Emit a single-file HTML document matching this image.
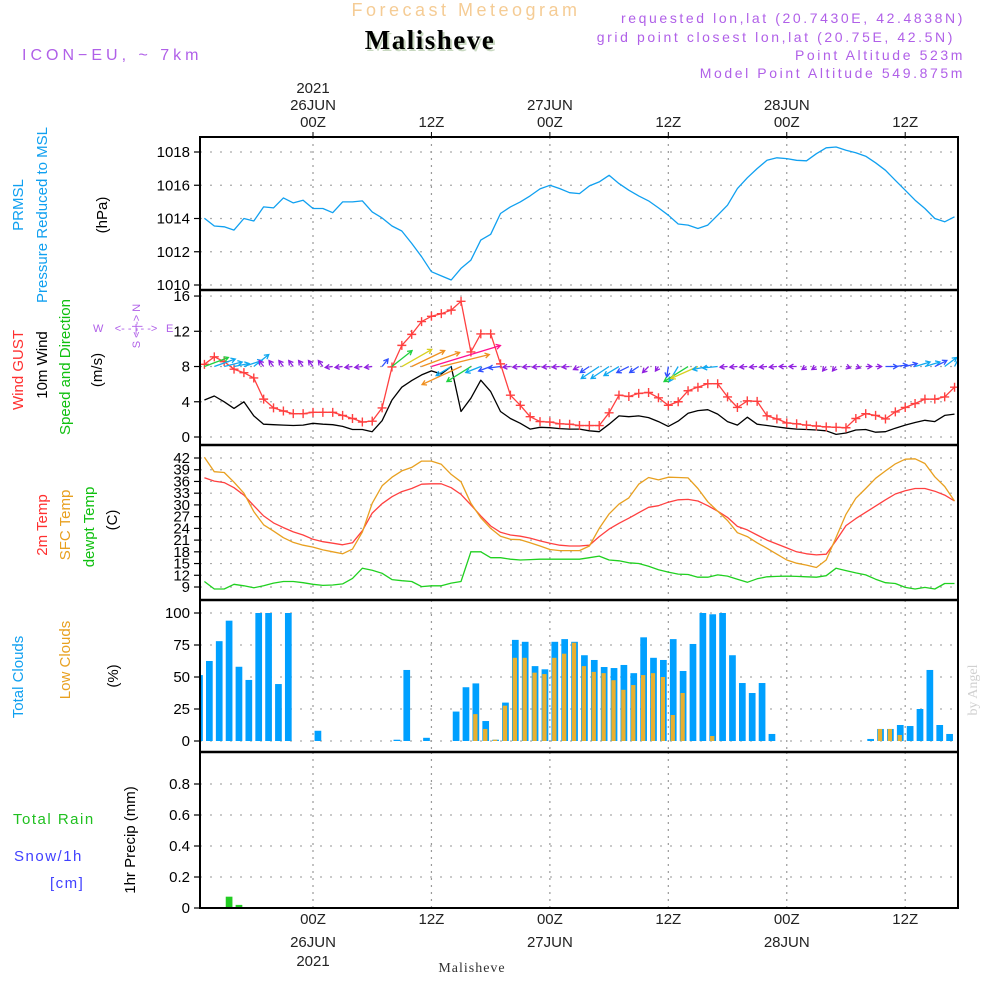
<!DOCTYPE html>
<html><head><meta charset="utf-8"><title>Forecast Meteogram Malisheve</title>
<style>
html,body{margin:0;padding:0;background:#fff;}
svg{display:block;font-family:"Liberation Sans",sans-serif;}
</style></head>
<body>
<svg id="chart" width="1000" height="1000" viewBox="0 0 1000 1000" xmlns="http://www.w3.org/2000/svg">
<defs><clipPath id="plotclip"><rect x="200" y="137" width="758" height="771"/></clipPath></defs>
<g>
<text x="466" y="16" text-anchor="middle" font-size="18" fill="#f5cc95" letter-spacing="3.5">Forecast Meteogram</text>
<text x="432" y="51" text-anchor="middle" font-size="27" font-weight="bold" font-family="Liberation Serif, serif" fill="#c8d8c0" letter-spacing="1.5">Malisheve</text>
<text x="430" y="49" text-anchor="middle" font-size="27" font-weight="bold" font-family="Liberation Serif, serif" fill="#000" letter-spacing="1.5">Malisheve</text>
<text x="22" y="60" font-size="16" fill="#b060e8" letter-spacing="4">ICON−EU, ~ 7km</text>
<text x="965" y="23" text-anchor="end" font-size="14" fill="#b060e8" letter-spacing="2.6">requested lon,lat (20.7430E, 42.4838N)</text>
<text x="955" y="42" text-anchor="end" font-size="14" fill="#b060e8" letter-spacing="2.6">grid point closest lon,lat (20.75E, 42.5N)</text>
<text x="965" y="60" text-anchor="end" font-size="14" fill="#b060e8" letter-spacing="2.6">Point Altitude 523m</text>
<text x="965" y="78" text-anchor="end" font-size="14" fill="#b060e8" letter-spacing="2.6">Model Point Altitude 549.875m</text>
<text x="977" y="690" font-size="14" fill="#d0d0d0" font-family="Liberation Serif, serif" transform="rotate(-90 977 690)" text-anchor="middle">by Angel</text>
<text x="472" y="972" text-anchor="middle" font-size="14" font-family="Liberation Serif, serif" fill="#333" letter-spacing="1">Malisheve</text>
</g>
<g font-size="15">
<text transform="translate(23,205) rotate(-90)" text-anchor="middle" fill="#10a0f0">PRMSL</text>
<text transform="translate(47,215) rotate(-90)" text-anchor="middle" fill="#10a0f0">Pressure Reduced to MSL</text>
<text transform="translate(107,215) rotate(-90)" text-anchor="middle" fill="#000">(hPa)</text>
<text transform="translate(23,370) rotate(-90)" text-anchor="middle" fill="#ff3030">Wind GUST</text>
<text transform="translate(47,365) rotate(-90)" text-anchor="middle" fill="#000">10m Wind</text>
<text transform="translate(70,367) rotate(-90)" text-anchor="middle" fill="#10c010">Speed and Direction</text>
<text transform="translate(102,370) rotate(-90)" text-anchor="middle" fill="#000">(m/s)</text>
<g fill="#b060e8" font-size="11">
<text x="93" y="332">W</text><text x="136" y="332" text-anchor="middle">&lt;- - | - -&gt;</text><text x="166" y="332">E</text>
<text transform="translate(140,326) rotate(-90)" text-anchor="middle">S &lt;-|-&gt; N</text>
</g>
<text transform="translate(47,525) rotate(-90)" text-anchor="middle" fill="#ff3030">2m Temp</text>
<text transform="translate(70,525) rotate(-90)" text-anchor="middle" fill="#e8a020">SFC Temp</text>
<text transform="translate(94,527) rotate(-90)" text-anchor="middle" fill="#10c010">dewpt Temp</text>
<text transform="translate(117,520) rotate(-90)" text-anchor="middle" fill="#000">(C)</text>
<text transform="translate(23,677) rotate(-90)" text-anchor="middle" fill="#10a0f0">Total Clouds</text>
<text transform="translate(70,660) rotate(-90)" text-anchor="middle" fill="#e8a020">Low Clouds</text>
<text transform="translate(118,676) rotate(-90)" text-anchor="middle" fill="#000">(%)</text>
<text x="13" y="824" fill="#20c020" letter-spacing="1.5">Total  Rain</text>
<text x="14" y="861" fill="#4040ff" letter-spacing="1.5">Snow/1h</text>
<text x="50" y="888" fill="#4040ff" letter-spacing="1.5">[cm]</text>
<text transform="translate(135,840) rotate(-90)" text-anchor="middle" fill="#000">1hr Precip (mm)</text>
</g>
<g id="grid"></g>
<g id="marks" clip-path="url(#plotclip)"></g>
<g id="axes"></g>
</svg>
<script>
// ---- data (hourly, h = -11 .. 65 hours from 26JUN 00Z) ----
const startHour = -11;
const pressure = [1014.02,1013.55,1013.5,1013.3,1014.0,1013.85,1014.7,1014.64,1015.24,1014.94,1015.1,1014.6,1014.6,1014.35,1015.0,1015.0,1015.06,1014.4,1014.03,1013.55,1013.25,1012.5,1011.7,1010.8,1010.55,1010.3,1011.0,1011.5,1012.7,1013.05,1014.3,1014.7,1015.0,1015.36,1015.78,1016.0,1015.8,1015.55,1015.5,1015.96,
1016.2,1016.6,1016.1,1015.7,1015.36,1015.06,1014.64,1014.2,1013.67,1013.6,1013.4,1013.6,1014.2,1014.8,1015.8,1016.45,1017.0,1017.5,1017.65,1017.6,1017.5,1017.47,1017.9,1018.25,1018.3,1018.1,1017.95,1017.75,1017.35,1016.9,1016.3,1015.7,1015.1,1014.6,1014.0,1013.8,1014.1];
const gust = [8.25,9.1,8.55,7.7,7.3,6.7,4.3,3.3,2.95,2.65,2.65,2.8,2.8,2.8,2.45,2.1,1.7,1.8,3.3,7.95,10.4,11.65,13.1,13.7,14.0,14.4,15.4,9.65,11.7,11.7,8.3,4.75,3.6,2.3,1.75,1.7,1.5,1.45,1.3,1.3,
1.3,2.75,4.75,4.6,4.95,5.05,4.45,3.6,4.0,5.25,5.65,6.05,6.05,4.55,3.35,4.1,4.05,2.4,2.05,1.6,1.5,1.35,1.25,1.15,1.1,1.05,2.1,2.65,2.45,2.05,2.85,3.35,3.8,4.3,4.3,4.55,5.65];
const wind10m = [4.2,4.65,4.0,3.25,4.0,2.4,1.45,1.4,1.35,1.3,1.35,1.55,1.45,1.4,1.2,0.85,0.85,0.6,1.85,4.2,5.65,6.4,7.05,7.5,7.15,8.0,2.9,4.4,6.45,5.15,2.9,2.1,1.55,0.9,1.1,1.05,0.95,0.9,0.9,0.7,
0.6,1.45,2.4,2.3,2.4,2.2,1.75,1.2,1.8,2.7,3.0,3.1,2.6,1.75,1.35,2.25,1.45,1.3,1.15,1.0,0.9,0.85,0.8,0.7,0.3,0.45,0.8,0.85,0.55,0.6,1.0,1.35,1.65,1.9,1.75,2.45,2.6];
const windU = [8,7,6,5,6,5,-1.5,-1.5,-1.5,-1.5,-1.5,-1.5,-1.5,-2.5,-2.5,-2.5,-2.5,-2.5,2,6.7,10,11,12.7,23,16,-5,-13,-8,-5,-4,-4,-2.5,-2.5,-2.5,-2.5,-2.5,-2.5,-2.5,
-2,-3,-6,-6,-5,-4,-3,-2,-1,-0.5,-3,-8,-9,-5,-5,-2.5,-2.5,-2.5,-2.5,-2.5,-2.5,-2.5,-2.5,-1.5,-1.5,-1.2,-1.2,1.5,1.5,2,2,4,4,4,5,5,4,4,3];
const windV = [3,2.5,1.5,1,2,4,2,2,2,2,2,2,2,-0.3,-0.3,-0.3,-0.3,-0.3,2.5,5.3,5.7,5.3,4.7,7,4,-3,-6,-5,-2,-1.5,-0.5,-0.2,-0.2,-0.2,-0.2,-0.2,-0.2,-0.2,
-1,-2,-4,-4,-3,-2,-2,-2,-1.5,-3.5,-5,-5,-4,-1,-0.5,-0.2,-0.2,-0.2,-0.2,-0.2,-0.2,0,0,-1,-1,-1.5,-1.5,-0.5,-0.5,0,0,0,0.5,1,1.5,1.5,2,3,6];
const temp2m = [36.96,36.1,35.7,34.4,32.5,29.8,27.2,25.4,24.2,23.1,22.3,21.2,20.6,20.2,19.8,20.3,23.4,27.9,30.3,32.1,33.4,34.2,35.3,35.4,35.4,34.4,32.7,30.0,27.2,24.6,23.0,22.3,22.0,21.5,20.8,20.2,19.7,19.5,19.5,19.7,
21.9,23.8,25.3,26.6,28.0,29.4,29.8,30.7,31.3,31.4,31.0,29.8,28.4,26.8,24.5,23.6,22.3,21.0,20.0,19.0,18.0,17.5,17.2,17.4,20.9,24.7,26.5,28.1,29.7,31.3,32.8,33.6,34.2,34.2,33.5,32.5,31.0];
const tempSfc = [42.2,38.5,38.3,35.8,33.0,28.3,24.9,23.3,21.6,20.4,19.7,19.2,18.5,18.0,17.5,18.7,23.1,30.4,34.9,37.1,38.7,39.6,41.2,41.2,40.4,37.8,35.9,30.4,26.7,24.0,22.0,21.2,21.1,20.3,19.5,18.6,18.3,18.3,18.3,19.5,
24.0,27.7,30.2,31.8,35.3,37.0,36.4,37.1,37.0,36.9,34.2,30.8,28.4,26.0,22.9,21.9,20.3,18.9,17.4,15.9,15.1,14.6,14.0,15.9,21.7,27.6,31.7,34.2,36.8,38.7,40.5,41.7,41.8,40.6,37.2,34.7,31.0];
const dewpoint = [10.4,8.5,8.5,9.7,9.3,8.8,9.3,10.0,10.4,10.4,10.1,9.7,9.4,9.5,9.8,11.2,13.8,13.3,12.5,10.9,10.6,10.4,9.1,9.3,9.3,10.0,10.4,18.0,18.0,16.5,16.5,16.1,15.9,16.0,16.1,16.1,16.1,16.1,16.1,16.5,
16.9,15.9,15.7,15.2,15.0,14.3,13.4,12.8,12.3,12.2,11.5,11.5,12.1,11.8,11.0,10.2,11.1,11.6,11.7,11.8,11.7,11.6,11.5,11.9,13.8,13.2,12.6,12.1,11.0,10.1,9.9,8.9,8.5,8.9,8.5,9.9,9.9];
const totalClouds = [51.5,62.5,78,94,58,47.7,100,100,44.5,100,0,0,8,0,0,0,0,0,0,0,1,55.5,0,2.5,0,0,23,42,45,15.6,1,30,79,77.5,58.5,56,77.5,79.6,77.5,67,
63.3,57.8,57,59.4,53,81,65,63.3,79.6,54.7,75.8,100,99,100,67,45.3,37.5,45.3,5.5,0,0,0,0,0,0,0,0,0,1.6,9.4,9.4,12.5,11.7,25,55.5,12.5,5.5];
const lowClouds = [0,0,0,0,0,0,0,0,0,0,0,0,0,0,0,0,0,0,0,0,0,0,0,0,0,0,0,0,21,9.4,1,27.6,65,65,53.4,52.3,65,68.2,76.8,58.5,
54,53,47.5,40,43.7,51.5,53,50,20.3,37.5,0,0,3.9,0,0,0,0,0,0,0,0,0,0,0,0,0,0,0,0,9.4,9.4,4.7,0,0,0,0,0];
const precip = [0,0.005,0.003,0.073,0.02,0,0,0,0,0,0,0,0,0,0,0,0,0,0,0,0,0,0,0,0,0,0,0,0,0,0,0,0,0,0,0,0,0,0,0,
0,0,0,0,0,0,0,0,0,0,0,0,0,0,0,0,0,0,0,0,0,0,0,0,0,0,0,0,0,0,0,0,0,0,0,0,0];
const pressureTicks = [1010,1012,1014,1016,1018];
const windTicks = [0,4,8,12,16];
const tempTicks = [9,12,15,18,21,24,27,30,33,36,39,42];
const cloudTicks = [0,25,50,75,100];
const precipTicks = [0,0.2,0.4,0.6,0.8];
const precipTickLabels = ["0","0.2","0.4","0.6","0.8"];
const timeTicks = [0,12,24,36,48,60];
const timeLabels = ["00Z","12Z","00Z","12Z","00Z","12Z"];
const dayLabels = ["26JUN","","27JUN","","28JUN",""];

// ---- axis functions ----
const X0 = 200, X1 = 958;
const xH = h => 313 + 9.87 * h;
const xi = i => xH(startHour + i);
const yP = v => 285 - (v - 1010) * 16.625;
const yW = v => 437 - v * 8.81;
const yT = v => 587 - (v - 9) * 3.909;
const yC = v => 741 - v * 1.28;
const yR = v => 908 - v * 155;
const panels = [[137,290],[290,445],[445,600],[600,752],[752,908]];

const NS = "http://www.w3.org/2000/svg";
const grid = document.getElementById('grid');
const marks = document.getElementById('marks');
const axes = document.getElementById('axes');
function mk(tag, attrs, parent){
  const e = document.createElementNS(NS, tag);
  for (const k in attrs) e.setAttribute(k, attrs[k]);
  parent.appendChild(e);
  return e;
}

timeTicks.forEach((h, k) => {
  const x = xH(h);
  panels.forEach(p => {
    const g = mk('line', {x1:x, x2:x, y1:p[0], y2:p[1], stroke:'#999', 'stroke-width':1.2, 'stroke-dasharray':'2,5'}, grid);
    
    
  });
  const tt = mk('line', {x1:x, x2:x, y1:132, y2:137, stroke:'#000'}, axes);
  
  
  const t1 = mk('text', {x:x, y:127, 'text-anchor':'middle', 'font-size':15, fill:'#222'}, axes);
  t1.textContent = timeLabels[k];
  
  
  const t2 = mk('text', {x:x, y:924, 'text-anchor':'middle', 'font-size':15, fill:'#222'}, axes);
  t2.textContent = timeLabels[k];
  
  
  if (dayLabels[k]) {
    const d1 = mk('text', {x:x, y:110, 'text-anchor':'middle', 'font-size':15, fill:'#222'}, axes);
    d1.textContent = dayLabels[k];
    
    
    const d2 = mk('text', {x:x, y:947, 'text-anchor':'middle', 'font-size':15, fill:'#222'}, axes);
    d2.textContent = dayLabels[k];
    
    
  }
});
const y1 = mk('text', {x:xH(0), y:93, 'text-anchor':'middle', 'font-size':15, fill:'#222'}, axes);
y1.textContent = '2021';


const y2 = mk('text', {x:xH(0), y:966, 'text-anchor':'middle', 'font-size':15, fill:'#222'}, axes);
y2.textContent = '2021';



function yAxis(ticks, labels, fy, name){
  ticks.forEach((v, k) => {
    const y = fy(v);
    const g = mk('line', {x1:X0, x2:X1, y1:y, y2:y, stroke:'#aaa', 'stroke-width':1.2, 'stroke-dasharray':'2,8'}, grid);
    
    
    const t = mk('line', {x1:X0-6, x2:X0, y1:y, y2:y, stroke:'#000', 'stroke-width':1.2}, axes);
    
    
    const l = mk('text', {x:X0-10, y:y+5, 'text-anchor':'end', 'font-size':15, fill:'#000'}, axes);
    l.textContent = labels ? labels[k] : String(v);
    
    
  });
}
yAxis(pressureTicks, null, yP, 'pressure');
yAxis(windTicks, null, yW, 'wind');
yAxis(tempTicks, null, yT, 'temp');
yAxis(cloudTicks, null, yC, 'clouds');
yAxis(precipTicks, precipTickLabels, yR, 'precip');

const fr = mk('rect', {x:X0, y:137, width:X1-X0, height:771, fill:'none', stroke:'#000', 'stroke-width':2}, axes);


[290,445,600,752].forEach(y => {
  const s = mk('line', {x1:X0, x2:X1, y1:y, y2:y, stroke:'#000', 'stroke-width':2.5}, axes);
  
  
});

function polyline(arr, fy, color, name, w){
  const pts = arr.map((v, i) => xi(i).toFixed(1) + ',' + fy(v).toFixed(1)).join(' ');
  const p = mk('polyline', {points:pts, fill:'none', stroke:color, 'stroke-width':w || 1.3, 'stroke-linejoin':'round'}, marks);
  
  
}

totalClouds.forEach((v, i) => {
  if (v <= 0) return;
  const b = mk('rect', {x:xi(i)-8.3, y:yC(v), width:6.7, height:yC(0)-yC(v), fill:'#00a0ff'}, marks);
  
  
});
lowClouds.forEach((v, i) => {
  if (v <= 0) return;
  const b = mk('rect', {x:xi(i)-7.6, y:yC(v), width:4.3, height:yC(0)-yC(v), fill:'#e8b030'}, marks);
  
  
});
precip.forEach((v, i) => {
  if (v <= 0) return;
  const b = mk('rect', {x:xi(i)-8.3, y:yR(v), width:6.7, height:Math.max(1, yR(0)-yR(v)), fill:'#22cc22'}, marks);
  
  
});

polyline(pressure, yP, '#10a0f0', 'pressure-line');
polyline(wind10m, yW, '#000', 'wind-10m-line');
polyline(gust, yW, '#ff4040', 'gust-line');
gust.forEach((v, i) => {
  const x = xi(i), y = yW(v);
  const m = mk('path', {d:`M${x-4.5},${y}h9M${x},${y-4.5}v9`, stroke:'#ff4040', 'stroke-width':1.4}, marks);
  
  
});
polyline(temp2m, yT, '#ff4040', 'temp-2m-line');
polyline(tempSfc, yT, '#e8a020', 'temp-sfc-line');
polyline(dewpoint, yT, '#20d020', 'dewpoint-line');

function arrowColor(s){
  if (s < 3.2) return '#9020e0';
  if (s < 5) return '#3050ff';
  if (s < 8) return '#10a8f0';
  if (s < 9.5) return '#20d040';
  if (s < 12) return '#d8d020';
  if (s < 18) return '#f09020';
  return '#ff1090';
}
windU.forEach((u, i) => {
  const v = windV[i];
  const x = xi(i), y = yW(8);
  const dx = u * 3, dy = -v * 3;
  const len = Math.hypot(dx, dy) || 1;
  const ex = x + dx, ey = y + dy;
  const ux = dx / len, uy = dy / len;
  const hl = 5;
  const a1x = ex - hl * (ux * 0.87 - uy * 0.5), a1y = ey - hl * (uy * 0.87 + ux * 0.5);
  const a2x = ex - hl * (ux * 0.87 + uy * 0.5), a2y = ey - hl * (uy * 0.87 - ux * 0.5);
  const a = mk('path', {d:`M${x},${y}L${ex},${ey}M${a1x},${a1y}L${ex},${ey}L${a2x},${a2y}`, fill:'none', stroke:arrowColor(Math.hypot(u, v)), 'stroke-width':1.3}, marks);
  
  
});
</script>
</body></html>
